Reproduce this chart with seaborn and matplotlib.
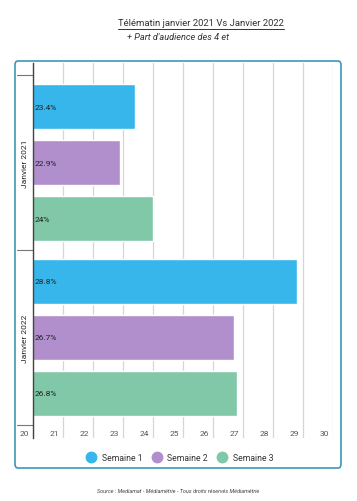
import pandas as pd
import numpy as np
import matplotlib.pyplot as plt
import seaborn as sns
from matplotlib.patches import FancyBboxPatch
from matplotlib.lines import Line2D
import matplotlib.transforms as mtransforms

# Data
periods = ['Janvier 2021', 'Janvier 2022']
semaines = ['Semaine 1', 'Semaine 2', 'Semaine 3']
audience_2021 = [23.4, 22.9, 24.0]
audience_2022 = [28.8, 26.7, 26.8]
x_ticks = list(range(20, 31))
colors = ['#36b6ea', '#b08fcc', '#80c8a7']

df = pd.DataFrame({
    'period': [periods[0]] * 3 + [periods[1]] * 3,
    'semaine': semaines * 2,
    'value': audience_2021 + audience_2022,
})

sns.set_style('white')
plt.rcParams['font.family'] = ['Roboto', 'DejaVu Sans']

W, H = 357, 502
fig = plt.figure(figsize=(W / 100, H / 100), dpi=100)
ax = fig.add_axes([33 / W, 1 - 439 / H, 300 / W, 375 / H])

sns.barplot(data=df, y='period', x='value', hue='semaine', orient='h',
            palette=colors, width=0.96, gap=0.2, ax=ax, legend=False,
            saturation=1)

ax.set_xlim(20, 30)
ax.set_ylim(1.5 + 13 / 175, -0.5 - 12 / 175)
ax.set_xticks(x_ticks)
ax.set_yticks([])
ax.tick_params(labelbottom=False, length=0)
ax.set_xlabel('')
ax.set_ylabel('')
ax.grid(axis='x', color='#d6d6d6', lw=0.9)
ax.set_axisbelow(True)
for s in ['top', 'right', 'bottom']:
    ax.spines[s].set_visible(False)
ax.spines['left'].set_color('#444444')
ax.spines['left'].set_linewidth(1.0)

# bar value labels
for container in ax.containers:
    for bar in container:
        v = bar.get_width()
        ax.text(20.07, bar.get_y() + bar.get_height() / 2, f'{v:g}%',
                ha='left', va='center', fontsize=6, color='#222222')

# x tick labels inside the bottom of the axes
trans = mtransforms.blended_transform_factory(ax.transData, ax.transAxes)
for t in x_ticks:
    ax.text(t - 0.13, 0.013, str(t), transform=trans, ha='right', va='center',
            fontsize=6, color='#555555')

# category labels and separators
trans_y = mtransforms.blended_transform_factory(ax.transAxes, ax.transData)
for i, p in enumerate(periods):
    ax.text(-0.028, i, p, transform=trans_y, rotation=90, ha='center',
            va='center', fontsize=6, color='#222222')
for yb in [-0.5, 0.5, 1.5]:
    ax.plot([-16 / 300, 0], [yb, yb], transform=trans_y, color='#777777',
            lw=0.8, clip_on=False)

# frame
frame = FancyBboxPatch((15 / W, 1 - 469 / H), 326 / W, 407 / H,
                       boxstyle='round,pad=0,rounding_size=0.008',
                       transform=fig.transFigure, fill=False,
                       edgecolor='#3f97b5', lw=1.2)
fig.add_artist(frame)

# legend
handles = [Line2D([], [], marker='o', linestyle='', markersize=7.5,
                  markerfacecolor=c, markeredgecolor=c) for c in colors]
fig.legend(handles, semaines, loc='center', bbox_to_anchor=(178 / W, 1 - 459 / H),
           ncol=3, frameon=False, fontsize=6.2, handletextpad=0.2,
           columnspacing=0.7, labelcolor='#333333')

# titles
title = fig.text(201 / W, 1 - 24 / H, 'Télématin janvier 2021 Vs Janvier 2022',
                 ha='center', va='center', fontsize=6.8, color='#333333')
fig.text(178 / W, 1 - 37 / H, "+ Part d'audience des 4 et", ha='center',
         va='center', fontsize=6.6, style='italic', color='#333333')
fig.text(178 / W, 1 - 492 / H,
         'Source : Mediamat - Médiamétrie - Tous droits réservés Médiamétrie',
         ha='center', va='center', fontsize=4, style='italic', color='#444444')

fig.canvas.draw()
bb = title.get_window_extent().transformed(fig.transFigure.inverted())
fig.add_artist(Line2D([bb.x0, bb.x1], [bb.y0 - 0.003, bb.y0 - 0.003],
                      transform=fig.transFigure, color='#333333', lw=0.7))

plt.savefig('out.png', dpi=100)
